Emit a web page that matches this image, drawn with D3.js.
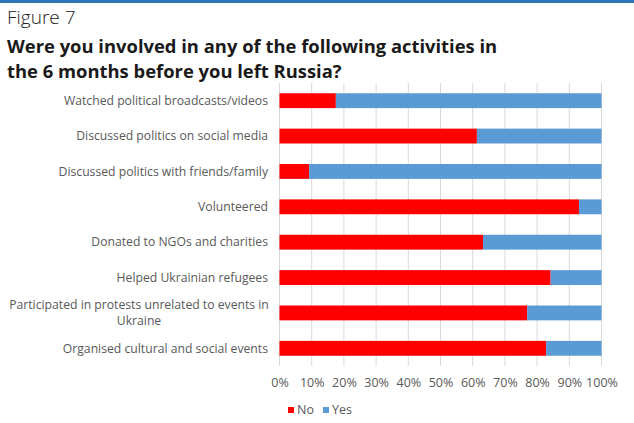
<!DOCTYPE html>
<html>
<head>
<meta charset="utf-8">
<script src="https://cdn.jsdelivr.net/npm/d3@7"></script>
<style>
  html, body { margin: 0; padding: 0; background: #fff; }
  svg { display: block; }
</style>
</head>
<body>
<svg id="chart" width="634" height="423"></svg>
<script>
// Survey activities (top to bottom) and share answering No / Yes (%)
const categories = [
  "Watched political broadcasts/videos",
  "Discussed politics on social media",
  "Discussed politics with friends/family",
  "Volunteered",
  "Donated to NGOs and charities",
  "Helped Ukrainian refugees",
  "Participated in protests unrelated to events in Ukraine",
  "Organised cultural and social events"
];
const noValues  = [17.5, 61.3, 9.2, 93.0, 63.2, 84.2, 76.9, 82.8];
const yesValues = noValues.map(v => 100 - v);
const tickValues = [0, 10, 20, 30, 40, 50, 60, 70, 80, 90, 100];
const seriesNames = ["No", "Yes"];
const seriesColors = ["#ff0000", "#5b9bd5"];

const svg = d3.select("#chart");
const font = "'Open Sans', 'Noto Sans', sans-serif";

// Header rule and titles
svg.append("rect").attr("x", 0).attr("y", 0).attr("width", 634).attr("height", 3).attr("fill", "#2e75b6");
svg.append("text").attr("x", 7).attr("y", 24)
  .attr("font-family", font).attr("font-weight", 300).attr("font-size", 19).attr("fill", "#222")
  .text("Figure 7");
svg.append("text").attr("x", 7).attr("y", 53)
  .attr("font-family", font).attr("font-weight", 700).attr("font-size", 18.4).attr("fill", "#1a1a1a")
  .text("Were you involved in any of the following activities in");
svg.append("text").attr("x", 7).attr("y", 78)
  .attr("font-family", font).attr("font-weight", 700).attr("font-size", 18.4).attr("fill", "#1a1a1a")
  .text("the 6 months before you left Russia?");

const plot = { left: 279.5, right: 601.5, top: 83, bottom: 366 };

const x = d3.scaleLinear().domain([0, 100]).range([plot.left, plot.right]);
const y = d3.scaleBand().domain(categories).range([plot.top, plot.bottom]).paddingInner(0.58).paddingOuter(0.29);

// Vertical gridlines
svg.append("g")
  .selectAll("line").data(tickValues).join("line")
  .attr("x1", d => x(d)).attr("x2", d => x(d))
  .attr("y1", plot.top).attr("y2", plot.bottom)
  .attr("stroke", "#d9d9d9").attr("stroke-width", 1);

// Stacked bars
const rows = categories.map((c, i) => ({ cat: c, No: noValues[i], Yes: yesValues[i] }));
const stacked = d3.stack().keys(seriesNames)(rows);

svg.append("g").selectAll("g").data(stacked).join("g")
  .attr("fill", (d, i) => seriesColors[i])
  .selectAll("rect").data(d => d).join("rect")
  .attr("x", d => x(d[0]))
  .attr("width", d => x(d[1]) - x(d[0]))
  .attr("y", d => y(d.data.cat))
  .attr("height", y.bandwidth());

// X axis tick labels
const xAxis = d3.axisBottom(x).tickValues(tickValues).tickFormat(d => d + "%").tickSize(0).tickPadding(0);
const gx = svg.append("g").attr("transform", `translate(0, ${plot.bottom + 10})`).call(xAxis);
gx.select(".domain").remove();
gx.selectAll("text").attr("font-family", font).attr("font-size", 12.5).attr("fill", "#595959").attr("dy", "0.9em");

// Category labels (long one wraps onto two centred lines)
const labelG = svg.append("g").attr("font-family", font).attr("font-size", 12.2).attr("fill", "#595959");
categories.forEach(c => {
  const cy = y(c) + y.bandwidth() / 2;
  if (c.length > 45) {
    const lines = ["Participated in protests unrelated to events in", "Ukraine"];
    labelG.append("text").attr("x", 139).attr("y", cy - 7.8).attr("dy", "0.33em")
      .attr("text-anchor", "middle").text(lines[0]);
    labelG.append("text").attr("x", 139).attr("y", cy + 8.2).attr("dy", "0.33em")
      .attr("text-anchor", "middle").text(lines[1]);
  } else {
    labelG.append("text").attr("x", 268).attr("y", cy).attr("dy", "0.35em")
      .attr("text-anchor", "end").text(c);
  }
});

// Legend
const legend = svg.append("g").attr("font-family", font).attr("font-size", 12.5).attr("fill", "#595959");
const legendX = [288, 323];
seriesNames.forEach((s, i) => {
  legend.append("rect").attr("x", legendX[i]).attr("y", 407).attr("width", 6).attr("height", 6).attr("fill", seriesColors[i]);
  legend.append("text").attr("x", legendX[i] + 9).attr("y", 410).attr("dy", "0.35em").text(s);
});
</script>
</body>
</html>
